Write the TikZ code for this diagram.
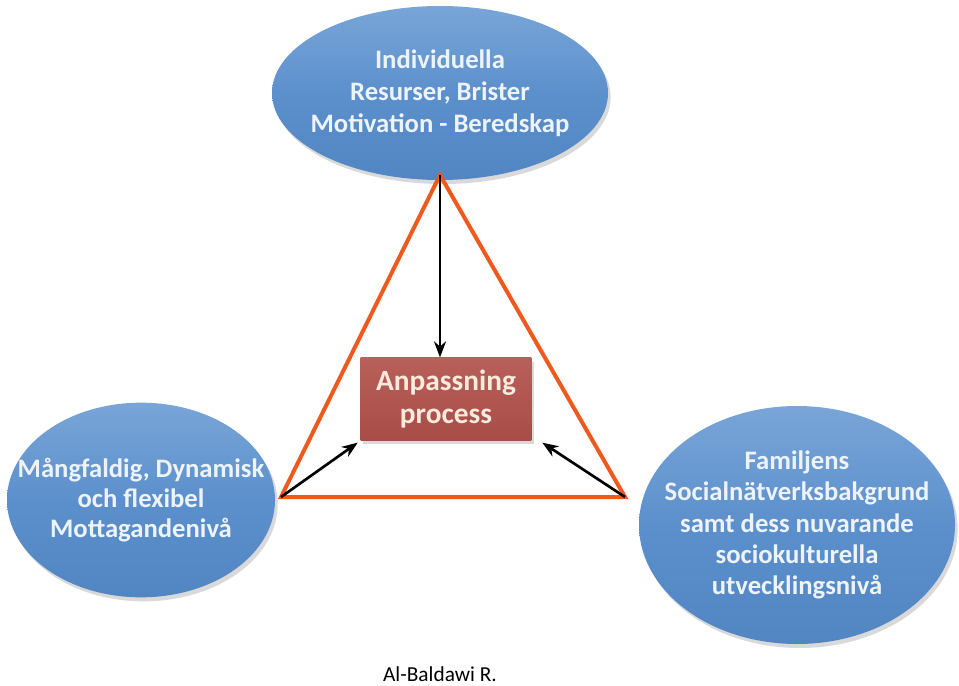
\documentclass[tikz,border=0pt]{standalone}
\usepackage{fontspec}
\setmainfont{Carlito}
\usetikzlibrary{arrows.meta,shadows,shapes.geometric}

\definecolor{ellblue}{HTML}{5C90CC}
\definecolor{ellblueTop}{HTML}{79A5D8}
\definecolor{ellblueBot}{HTML}{5286C3}
\definecolor{boxred}{HTML}{A84C47}
\definecolor{boxredTop}{HTML}{B9605A}
\definecolor{triorange}{HTML}{EE5A1E}
\definecolor{lighttext}{HTML}{EEF3F9}
\definecolor{creamtext}{HTML}{F7EBDD}

\begin{document}
\begin{tikzpicture}[x=0.75pt,y=-0.75pt,>=Stealth,
  factor/.style={ellipse,top color=ellblueTop,bottom color=ellblueBot,middle color=ellblue,
    draw=none,drop shadow={shadow xshift=2pt,shadow yshift=-3pt,opacity=0.3},
    text=lighttext,font=\bfseries\fontsize{20}{23.5}\selectfont,align=center,
    inner xsep=-40pt,inner ysep=0pt},
  core/.style={rectangle,top color=boxredTop,bottom color=boxred,draw=none,
    drop shadow={shadow xshift=2pt,shadow yshift=-3pt,opacity=0.3},
    text=creamtext,font=\bfseries\fontsize{22}{25}\selectfont,align=center},
  edge/.style={triorange,line width=3pt,line join=miter},
  pull/.style={->,black,line width=2pt}]
\useasboundingbox (0,0) rectangle (959,685);
% three factors
\node (indiv) [factor,minimum width=252pt,minimum height=130.5pt,
  font=\bfseries\fontsize{20}{24}\selectfont] at (440,93)
  {Individuella\\Resurser, Brister\\Motivation - Beredskap};
\node (recv)  [factor,minimum width=201pt,minimum height=146pt,
  font=\bfseries\fontsize{20}{22.5}\selectfont] at (141,500)
  {Mångfaldig, Dynamisk\\och flexibel\\Mottagandenivå};
\node (fam)   [factor,minimum width=237pt,minimum height=178.5pt] at (797,525)
  {Familjens\\Socialnätverksbakgrund\\samt dess nuvarande\\sociokulturella\\utvecklingsnivå};
% the process
\node (proc)  [core,minimum width=128pt,minimum height=62pt] at (446,399) {Anpassning\\process};
% triangle corners
\coordinate (apex) at (440,175);
\coordinate (lc)   at (281,497);
\coordinate (rc)   at (625,497);
\draw[edge] (apex) -- (lc) -- (rc) -- cycle;
\draw[pull] (apex) -- (proc.north -| apex);
\draw[pull] (lc) -- ([xshift=-2pt,yshift=-1.5pt]proc.south west);
\draw[pull] (rc) -- ([xshift=8pt,yshift=-1.5pt]proc.south east);
\node (sign) [anchor=base,inner sep=0pt] at (440,681) {\fontsize{16}{19}\selectfont Al-Baldawi R.};
\end{tikzpicture}
\end{document}
